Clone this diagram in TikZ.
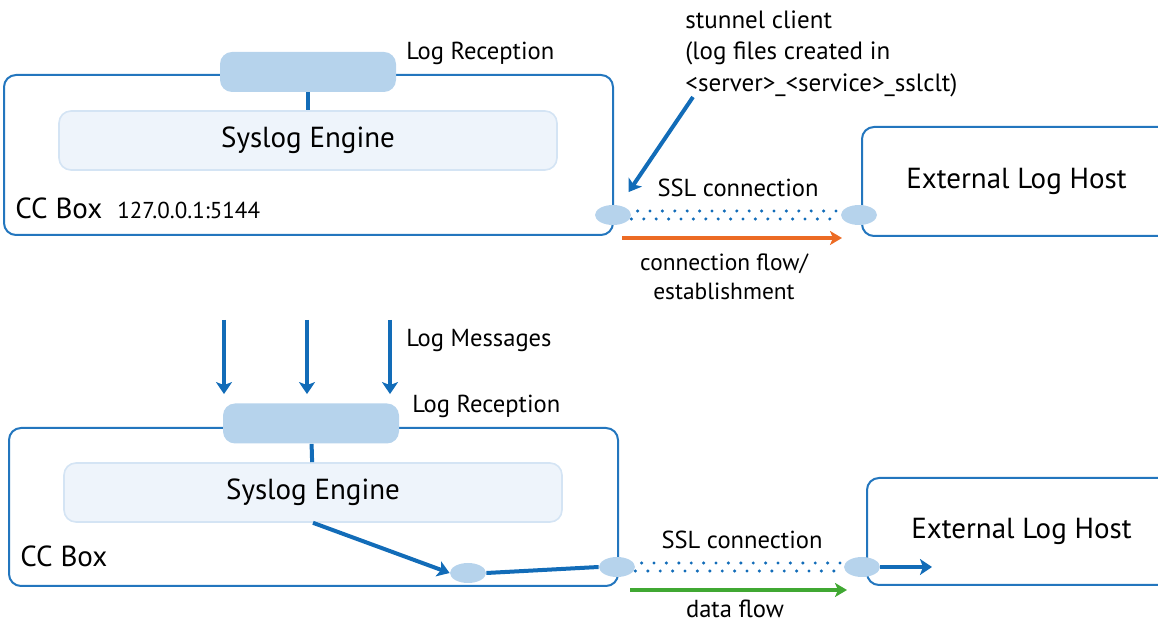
\documentclass[tikz,border=0pt]{standalone}
\usepackage{fontspec}
\setmainfont{PT Sans}
\usepackage{xcolor}
\usepackage{tikz}
\usetikzlibrary{
  arrows.meta,
  positioning,
  shapes.geometric,
  calc
}
\definecolor{boxblue}{RGB}{35,118,190}
\definecolor{arrowblue}{RGB}{18,108,184}
\definecolor{pillfill}{RGB}{182,211,236}
\definecolor{enginefill}{RGB}{238,244,251}
\definecolor{engineline}{RGB}{212,228,244}
\definecolor{floworange}{RGB}{236,107,36}
\definecolor{flowgreen}{RGB}{64,168,50}

\begin{document}
\begin{tikzpicture}[
    x=0.5pt, y=-0.5pt,
    font=\fontsize{12.3}{15}\selectfont,
    bigfont/.style={font=\fontsize{14.5}{17}\selectfont},
    ccbox/.style={
        draw=boxblue,
        line width=1pt,
        rounded corners=6pt,
        anchor=north west,
        inner sep=0pt
    },
    pill/.style={
        fill=pillfill,
        rounded corners=6pt,
        minimum width=88pt,
        minimum height=20pt,
        inner sep=0pt
    },
    engine/.style={
        fill=enginefill,
        draw=engineline,
        line width=0.8pt,
        rounded corners=6pt,
        minimum width=249pt,
        minimum height=29.5pt,
        bigfont
    },
    port/.style={
        ellipse,
        fill=pillfill,
        minimum width=18pt,
        minimum height=10pt,
        inner sep=0pt
    },
    lbl/.style={anchor=west, inner sep=0pt},
    link/.style={draw=arrowblue, line width=2pt},
    bluearrow/.style={
        draw=arrowblue, line width=2pt,
        -{Stealth[length=6pt, width=8pt, inset=1.5pt]}
    },
    flowarrow/.style={
        line width=2.4pt,
        -{Stealth[length=6pt, width=7pt, inset=1.5pt]}
    },
    ssl/.style={
        draw=arrowblue, line width=1.7pt, line cap=round,
        dash pattern=on 0pt off 6.2pt
    }
]
\useasboundingbox (0,0) rectangle (1158,624);

% ----------------------------------------------------------
% UPPER PART
% ----------------------------------------------------------

\node[ccbox, minimum width=304.5pt, minimum height=80pt] (boxA) at (3,74) {};
\node[ccbox, minimum width=154.5pt, minimum height=54.5pt, bigfont] (hostA) at (861,126) {External Log Host};

\node[pill] (pillA) at (308,72) {};
\node[engine] (engineA) at (308,140.5) {Syslog Engine};
\draw[link] (pillA) -- (engineA);

\node[port] (portA1) at (613,215) {};
\node[port] (portA2) at (859,215) {};

\node[lbl] (recA) at (406,53) {Log Reception};
\node[lbl, bigfont] (ccA) at (15,208) {CC Box};
\node[lbl, font=\fontsize{11.5}{14}\selectfont] (addrA) at (117,210) {127.0.0.1:5144};
\node[anchor=north west, inner sep=0pt, align=left,
      font=\fontsize{12.5}{15.75}\selectfont] (stunnel) at (685,10)
      {stunnel client\\(log files created in\\<server>\_<service>\_sslclt)};

\node (sslA) at (738,188) {SSL connection};
\node[align=center, font=\fontsize{11.7}{14.5}\selectfont] (flowA) at (724,277)
      {connection flow/\\establishment};

\coordinate (stunnelTail) at (693,97);
\draw[bluearrow, shorten >=8pt] (stunnelTail) -- (portA1);

\draw[ssl] ([yshift=-4*0.5pt]portA1.east) -- ([yshift=-4*0.5pt]portA2.west);
\draw[ssl, dash phase=3.1pt] ([yshift=4*0.5pt]portA1.east) -- ([yshift=4*0.5pt]portA2.west);

\coordinate (connStart) at (622,238);
\coordinate (connEnd) at (842,238);
\draw[flowarrow, draw=floworange, color=floworange] (connStart) -- (connEnd);

% ----------------------------------------------------------
% LOG MESSAGES
% ----------------------------------------------------------

\node[ccbox, minimum width=304.5pt, minimum height=79pt] (boxB) at (8,427) {};
\node[ccbox, minimum width=154.5pt, minimum height=53.5pt, bigfont] (hostB) at (866,477) {External Log Host};

\node[pill] (pillB) at (311,423.5) {};
\node[engine] (engineB) at (313,492.5) {Syslog Engine};
\draw[link] (pillB) -- (engineB);

\foreach \x in {224,307,390}
    \draw[bluearrow, shorten >=4.5pt] (\x,320) -- (\x,320 |- pillB.north);
\node[lbl] (msgs) at (406,341) {Log Messages};

% ----------------------------------------------------------
% LOWER PART
% ----------------------------------------------------------

\node[port] (portM) at (468,573) {};
\node[port] (portB1) at (617,567) {};
\node[port] (portB2) at (862,567) {};

\node[lbl] (recB) at (412,406) {Log Reception};
\node[lbl, bigfont] (ccB) at (20,556) {CC Box};
\node (sslB) at (742,540) {SSL connection};
\node[inner sep=1pt] (flowB) at (735,609) {data flow};

\draw[bluearrow] (engineB.south) -- (portM.west);
\draw[link] (portM.east) -- (portB1.west);

\draw[ssl] ([yshift=-4*0.5pt]portB1.east) -- ([yshift=-4*0.5pt]portB2.west);
\draw[ssl, dash phase=3.1pt] ([yshift=4*0.5pt]portB1.east) -- ([yshift=4*0.5pt]portB2.west);

\coordinate (outEnd) at (932,567);
\draw[bluearrow] (portB2.east) -- (outEnd);

\coordinate (dataStart) at (630,590);
\coordinate (dataEnd) at (847,590);
\draw[flowarrow, draw=flowgreen, color=flowgreen] (dataStart) -- (dataEnd);

\end{tikzpicture}
\end{document}
